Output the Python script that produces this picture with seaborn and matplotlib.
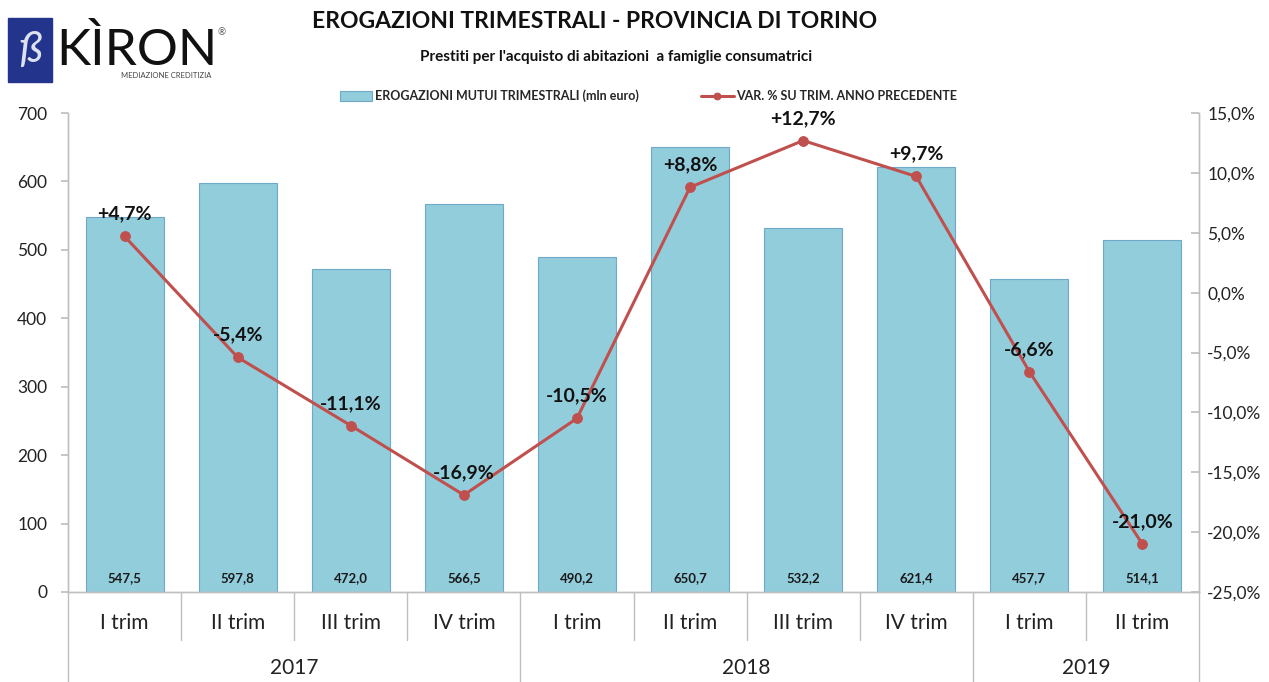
import numpy as np
import pandas as pd
import matplotlib
matplotlib.use("Agg")
import matplotlib.pyplot as plt
import matplotlib.transforms as mtransforms
from matplotlib.patches import Rectangle
import seaborn as sns

# data
quarters = ['I trim', 'II trim', 'III trim', 'IV trim',
            'I trim', 'II trim', 'III trim', 'IV trim',
            'I trim', 'II trim']
years = ['2017', '2018', '2019']
year_counts = [4, 4, 2]
erogazioni = [547.5, 597.8, 472.0, 566.5, 490.2, 650.7, 532.2, 621.4, 457.7, 514.1]
var_pct = [4.7, -5.4, -11.1, -16.9, -10.5, 8.8, 12.7, 9.7, -6.6, -21.0]

bar_label = 'EROGAZIONI MUTUI TRIMESTRALI (mln euro)'
line_label = 'VAR. % SU TRIM. ANNO PRECEDENTE'

sns.set_theme(style='white')
plt.rcParams['font.family'] = ['Lato', 'DejaVu Sans']

df = pd.DataFrame({'pos': np.arange(len(quarters)),
                   'quarter': quarters,
                   'value': erogazioni,
                   'var': var_pct})

fig = plt.figure(figsize=(12.69, 6.82), dpi=100)
ax = fig.add_axes([68 / 1269, 1 - 592 / 682, (1199 - 68) / 1269, (592 - 113) / 682])

sns.barplot(data=df, x='pos', y='value', ax=ax, color='#92CDDC',
            edgecolor='#6FA8C8', linewidth=0.8, width=0.69,
            saturation=1, label=bar_label)
if ax.get_legend() is not None:
    ax.get_legend().remove()
ax.set_xlim(-0.5, len(quarters) - 0.5)
ax.set_ylim(0, 700)
ax.set_yticks(range(0, 701, 100))
ax.set_xticks(df['pos'])
ax.set_xticklabels(quarters, fontsize=15, color='#222222')
ax.set_xlabel('')
ax.set_ylabel('')
ax.tick_params(axis='x', length=0, pad=15)
ax.tick_params(axis='y', labelsize=12.5, labelcolor='#222222', length=5,
               color='#BFBFBF', direction='out', left=True, pad=10)

for i, v in enumerate(erogazioni):
    ax.text(i, 20, f'{v:.1f}'.replace('.', ','), ha='center', va='center',
            fontsize=9.5, fontweight='bold', color='#1a1a1a')

ax2 = ax.twinx()
sns.lineplot(data=df, x='pos', y='var', ax=ax2, color='#C0504D', linewidth=2.2,
             marker='o', markersize=7, markeredgecolor='#C0504D', label=line_label,
             legend=False)
ax2.set_ylim(-25, 15)
ax2.set_yticks(range(-25, 16, 5))
ax2.set_yticklabels([f'{t:.1f}%'.replace('.', ',') for t in range(-25, 16, 5)])
ax2.set_ylabel('')
ax2.tick_params(axis='y', labelsize=12.5, labelcolor='#222222', length=6,
                color='#BFBFBF', direction='in', right=True, pad=6)
ax2.set_xlim(-0.5, len(quarters) - 0.5)

for i, v in enumerate(var_pct):
    txt = (f'+{v:.1f}%' if v > 0 else f'{v:.1f}%').replace('.', ',')
    ax2.annotate(txt, (i, v), xytext=(0, 16), textcoords='offset points',
                 ha='center', va='center', fontsize=14, fontweight='bold',
                 color='#111111')

for a in (ax, ax2):
    a.spines['top'].set_visible(False)
    for side in ('left', 'right', 'bottom'):
        a.spines[side].set_color('#BFBFBF')
        a.spines[side].set_linewidth(1)

# category separators and year labels below the axis
trans = mtransforms.blended_transform_factory(ax.transData, ax.transAxes)
bottom = -(682 - 592) / 479
start = -0.5
for yr, n in zip(years, year_counts):
    ax.plot([start, start], [0, bottom], transform=trans, color='#BFBFBF',
            lw=1, clip_on=False)
    for k in range(1, n):
        ax.plot([start + k, start + k], [0, -48 / 479], transform=trans,
                color='#BFBFBF', lw=1, clip_on=False)
    ax.text(start + n / 2, -76 / 479, yr, transform=trans, ha='center',
            va='center', fontsize=15, color='#222222')
    start += n
ax.plot([start, start], [0, bottom], transform=trans, color='#BFBFBF',
        lw=1, clip_on=False)

# legend
h1, l1 = ax.get_legend_handles_labels()
h2, l2 = ax2.get_legend_handles_labels()
fig.legend(h1 + h2, l1 + l2, loc='center', bbox_to_anchor=(0.511, 1 - 96 / 682),
           ncol=2, frameon=False, handlelength=2.6, handleheight=0.8,
           columnspacing=5, handletextpad=0.2, markerscale=0.7,
           prop={'size': 9, 'weight': 'bold'})

# titles
fig.text(595 / 1269, 1 - 22 / 682, 'EROGAZIONI TRIMESTRALI - PROVINCIA DI TORINO',
         ha='center', va='center', fontsize=16.5, fontweight='bold', color='#111111')
fig.text(616 / 1269, 1 - 57 / 682,
         "Prestiti per l'acquisto di abitazioni  a famiglie consumatrici",
         ha='center', va='center', fontsize=11, fontweight='bold', color='#111111')

# logo
fig.patches.append(Rectangle((8 / 1269, 1 - 82 / 682), 44 / 1269, 64 / 682,
                             transform=fig.transFigure, color='#22348C'))
fig.text(30 / 1269, 1 - 50 / 682, 'ß', ha='center', va='center', fontsize=30,
         color='white', style='italic', alpha=0.85)
fig.text(56 / 1269, 1 - 65 / 682, 'KÌRON', ha='left', va='baseline',
         fontsize=37, color='#111111')
fig.text(222 / 1269, 1 - 33 / 682, '®', ha='center', va='center',
         fontsize=7, color='#555555')
fig.text(166 / 1269, 1 - 75 / 682, 'MEDIAZIONE CREDITIZIA', ha='center',
         va='center', fontsize=5.5, color='#444444')

fig.savefig('out.png', dpi=100)
